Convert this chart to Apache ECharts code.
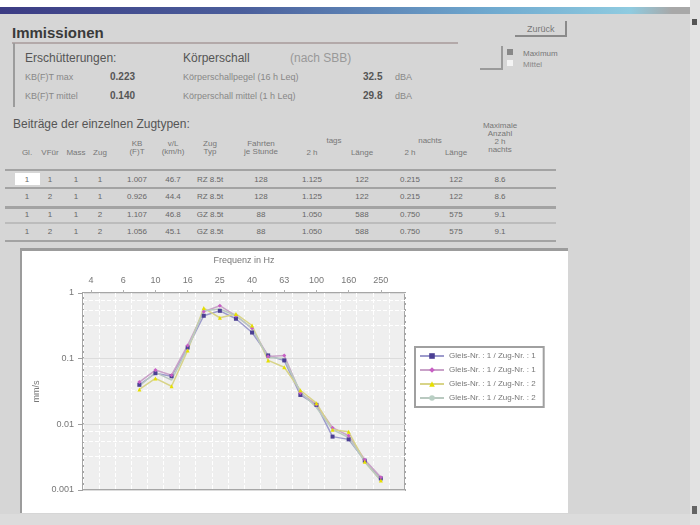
<!DOCTYPE html>
<html>
<head>
<meta charset="utf-8">
<title>Immissionen</title>
<script src="https://cdn.jsdelivr.net/npm/echarts@6/dist/echarts.min.js"></script>
<style>
  html, body { margin: 0; padding: 0; }
  body {
    width: 700px; height: 525px; position: relative; overflow: hidden;
    background: #d6d6d6;
    font-family: 'Liberation Sans', Arial, sans-serif; color: #6a6a6a;
  }
  .t { position: absolute; white-space: nowrap; line-height: 1; }
  .ln { position: absolute; }
  .hd { font-size: 8px; color: #777; text-align: center; }
  .cell { font-size: 8px; color: #666; text-align: center; }
</style>
</head>
<body>
<!-- Titelleiste -->
<div class="ln" style="left:0;top:0;width:700px;height:7px;background:#fff"></div>
<div class="ln" style="left:0;top:7px;width:700px;height:7px;background:linear-gradient(to right,#3c3c84,#4b5f9c 35%,#6fa9cf 70%,#8fcbe0 90%,#a8a8a8 96%)"></div>

<div class="t" style="left:12px;top:25px;font-size:15px;font-weight:bold;color:#3a3a3a">Immissionen</div>
<div class="ln" style="left:12px;top:42px;width:446px;height:2px;background:#b3a9a9"></div>
<div class="ln" style="left:13px;top:43px;width:2px;height:64px;background:#9c9c9c"></div>

<!-- Erschütterungen / Körperschall -->
<div class="t" style="left:25px;top:52px;font-size:12px;color:#555">Erschütterungen:</div>
<div class="t" style="left:25px;top:73px;font-size:9px;color:#888">KB(F)T max</div>
<div class="t" style="left:110px;top:72px;font-size:10px;font-weight:bold;color:#555">0.223</div>
<div class="t" style="left:25px;top:92px;font-size:9px;color:#888">KB(F)T mittel</div>
<div class="t" style="left:110px;top:91px;font-size:10px;font-weight:bold;color:#555">0.140</div>

<div class="t" style="left:183px;top:52px;font-size:12px;color:#555">Körperschall</div>
<div class="t" style="left:290px;top:52px;font-size:12px;color:#999">(nach SBB)</div>
<div class="t" style="left:183px;top:73px;font-size:9px;color:#888">Körperschallpegel (16 h Leq)</div>
<div class="t" style="left:363px;top:72px;font-size:10px;font-weight:bold;color:#555">32.5</div>
<div class="t" style="left:395px;top:73px;font-size:9px;color:#888">dBA</div>
<div class="t" style="left:183px;top:92px;font-size:9px;color:#888">Körperschall mittel (1 h Leq)</div>
<div class="t" style="left:363px;top:91px;font-size:10px;font-weight:bold;color:#555">29.8</div>
<div class="t" style="left:395px;top:92px;font-size:9px;color:#888">dBA</div>

<!-- Knopf und Optionen -->
<div class="ln" style="left:515px;top:21px;width:52px;height:16px;border-right:2px solid #8a8a8a;border-bottom:2px solid #8a8a8a;box-sizing:border-box"></div>
<div class="t" style="left:527px;top:25px;font-size:9px;color:#777">Zurück</div>
<div class="ln" style="left:480px;top:46px;width:23px;height:24px;border-right:2px solid #9a9a9a;border-bottom:2px solid #9a9a9a;box-sizing:border-box"></div>
<div class="ln" style="left:507px;top:49px;width:6px;height:6px;background:#888"></div>
<div class="ln" style="left:507px;top:60px;width:6px;height:6px;background:#f4f4f4"></div>
<div class="t" style="left:523px;top:50px;font-size:8px;color:#777">Maximum</div>
<div class="t" style="left:523px;top:61px;font-size:8px;color:#888">Mittel</div>

<!-- Tabelle -->
<div class="t" style="left:13px;top:118px;font-size:12px;color:#555">Beiträge der einzelnen Zugtypen:</div>
<div id="table"></div>

<!-- Diagrammbereich -->
<div class="ln" style="left:20px;top:248px;width:548px;height:265px;background:#fff;border-top:3px solid #9c9c9c;border-left:2px solid #9c9c9c;box-sizing:border-box"></div>
<div id="chart" style="position:absolute;left:22px;top:251px;width:545px;height:261px"></div>

<div class="ln" style="left:0;top:514px;width:690px;height:11px;background:#dcdcdc"></div>
<div class="ln" style="left:690px;top:0;width:10px;height:525px;background:#e2e2e2"></div>
<div class="ln" style="left:692px;top:19px;width:5px;height:6px;background:#555"></div>
<div class="ln" style="left:692px;top:506px;width:5px;height:8px;background:#666"></div>

<script>
// Tabelle: Spalten und Zeilen
const colX = [27, 50, 76, 100, 137, 173, 210, 261, 312, 362, 410, 456, 500]
const headRows = [
  ['Gl.', 'VFür', 'Mass', 'Zug', 'KB\n(F)T', 'v/L\n(km/h)', 'Zug\nTyp', 'Fahrten\nje Stunde', '2 h', 'Länge', '2 h', 'Länge', 'Maximale\nAnzahl\n2 h\nnachts']
]
const tableRows = [
  ['1', '1', '1', '1', '1.007', '46.7', 'RZ 8.5t', '128', '1.125', '122', '0.215', '122', '8.6'],
  ['1', '2', '1', '1', '0.926', '44.4', 'RZ 8.5t', '128', '1.125', '122', '0.215', '122', '8.6'],
  ['1', '1', '1', '2', '1.107', '46.8', 'GZ 8.5t', '88', '1.050', '588', '0.750', '575', '9.1'],
  ['1', '2', '1', '2', '1.056', '45.1', 'GZ 8.5t', '88', '1.050', '588', '0.750', '575', '9.1']
]
const rowY = [176, 193, 211, 228]
const lineY = [169, 187, 206, 222, 240]

const tbl = document.getElementById('table')
function put(x, y, text, cls, w) {
  const d = document.createElement('div')
  d.className = 't ' + cls
  d.style.left = (x - w / 2) + 'px'
  d.style.top = y + 'px'
  d.style.width = w + 'px'
  d.innerHTML = text.split('\n').join('<br>')
  tbl.appendChild(d)
}
// Kopfzeile (mehrzeilig, unten bündig)
headRows[0].forEach((h, i) => {
  const n = h.split('\n').length
  put(colX[i], 158 - n * 9, h, 'hd', 50)
})
put(334, 137, 'tags', 'hd', 40)
put(430, 137, 'nachts', 'hd', 40)
lineY.forEach((y, i) => {
  const d = document.createElement('div')
  d.className = 'ln'
  d.style.cssText = 'left:5px;width:551px;top:' + y + 'px;height:' + (i === 2 ? 3 : 2) + 'px;background:' + (i === 3 ? '#bcbcbc' : '#a3a3a3')
  tbl.appendChild(d)
})
// markierte Zelle
const sel = document.createElement('div')
sel.className = 'ln'
sel.style.cssText = 'left:15px;top:173px;width:25px;height:12px;background:#fff'
tbl.appendChild(sel)
tableRows.forEach((r, j) => {
  r.forEach((v, i) => put(colX[i], rowY[j], v, 'cell', 46))
})

// ---- Diagramm: Terzbänder und Werte (log) ----
const freqs = ['4', '5', '6.3', '8', '10', '12.5', '16', '20', '25', '31.5', '40', '50', '63', '80', '100', '125', '160', '200', '250', '315']
const yTicks = [0.001, 0.01, 0.1, 1]
const seriesNames = ['Reihe 1', 'Reihe 2', 'Reihe 3', 'Reihe 4']
const legendLabels = [
  'Gleis-Nr. : 1 / Zug-Nr. : 1',
  'Gleis-Nr. : 1 / Zug-Nr. : 1',
  'Gleis-Nr. : 1 / Zug-Nr. : 2',
  'Gleis-Nr. : 1 / Zug-Nr. : 2'
]
const s1 = [null, null, null, 0.040, 0.060, 0.054, 0.148, 0.45, 0.535, 0.405, 0.25, 0.112, 0.094, 0.028, 0.0198, 0.0065, 0.0059, 0.0028, 0.0015, null]
const s2 = [null, null, null, 0.044, 0.067, 0.056, 0.159, 0.52, 0.64, 0.45, 0.29, 0.108, 0.112, 0.030, 0.020, 0.0089, 0.0067, 0.0029, 0.00157, null]
const s3 = [null, null, null, 0.034, 0.050, 0.038, 0.133, 0.59, 0.42, 0.48, 0.32, 0.094, 0.074, 0.033, 0.021, 0.0083, 0.0077, 0.0027, 0.0014, null]
const s4 = [null, null, null, 0.038, 0.062, 0.047, 0.143, 0.535, 0.57, 0.45, 0.29, 0.104, 0.101, 0.031, 0.018, 0.0083, 0.0063, 0.0027, 0.0014, null]

const chart = echarts.init(document.getElementById('chart'))

function line(name, data, symbol, marker, lineColor) {
  return {
    name: name,
    type: 'line',
    data: data,
    symbol: symbol,
    symbolSize: 4,
    showSymbol: symbol !== 'none',
    itemStyle: { color: marker },
    lineStyle: { color: lineColor, width: 1.5 },
    animation: false
  }
}

chart.setOption({
  textStyle: { fontFamily: 'Liberation Sans, Arial, sans-serif' },
  grid: {
    left: 61, top: 41, width: 322, height: 198,
    show: true,
    backgroundColor: '#efefef',
    borderColor: '#a6a6a6',
    borderWidth: 2
  },
  legend: {
    orient: 'vertical',
    left: 393, top: 96,
    itemGap: 6,
    itemWidth: 24, itemHeight: 7,
    padding: [5, 8, 5, 4],
    borderColor: '#a0a0a0', borderWidth: 2,
    backgroundColor: '#fff',
    textStyle: { fontSize: 8, color: '#777' },
    formatter: (n) => legendLabels[seriesNames.indexOf(n)],
    data: seriesNames
  },
  xAxis: {
    type: 'category',
    position: 'top',
    data: freqs,
    boundaryGap: true,
    name: 'Frequenz in Hz',
    nameLocation: 'middle',
    nameGap: 28,
    nameTextStyle: { fontSize: 9, color: '#777' },
    axisLine: { show: false },
    axisTick: { show: true, alignWithLabel: true, interval: 1, length: 3, lineStyle: { color: '#b0b0b0' } },
    axisLabel: {
      interval: 1, fontSize: 9, color: '#777', margin: 8,
      formatter: (v) => String(Math.round(Number(v)))
    },
    splitLine: { show: true, interval: 0, lineStyle: { color: '#ffffff', type: 'dashed', width: 1 } }
  },
  yAxis: {
    type: 'log',
    logBase: 10,
    min: yTicks[0],
    max: yTicks[yTicks.length - 1],
    name: 'mm/s',
    nameLocation: 'middle',
    nameGap: 38,
    nameRotate: 90,
    nameTextStyle: { fontSize: 9, color: '#777' },
    axisLine: { show: false },
    axisTick: { show: true, length: 5, lineStyle: { color: '#a0a0a0' } },
    axisLabel: { fontSize: 9, color: '#777', margin: 9, formatter: (v) => String(v) },
    splitLine: { show: true, lineStyle: { color: '#dcdcdc', width: 1 } },
    minorTick: { show: false, splitNumber: 4 },
    minorSplitLine: { show: true, lineStyle: { color: '#ffffff', type: 'dashed' } }
  },
  series: [
    line(seriesNames[0], s1, 'rect', '#4b3f93', '#9d9bcc'),
    line(seriesNames[1], s2, 'diamond', '#c85fc4', '#c9a2c8'),
    line(seriesNames[2], s3, 'triangle', '#e6df00', '#d8d488'),
    line(seriesNames[3], s4, 'none', '#b9cfc4', '#b9c9c0')
  ]
})
</script>
</body>
</html>
